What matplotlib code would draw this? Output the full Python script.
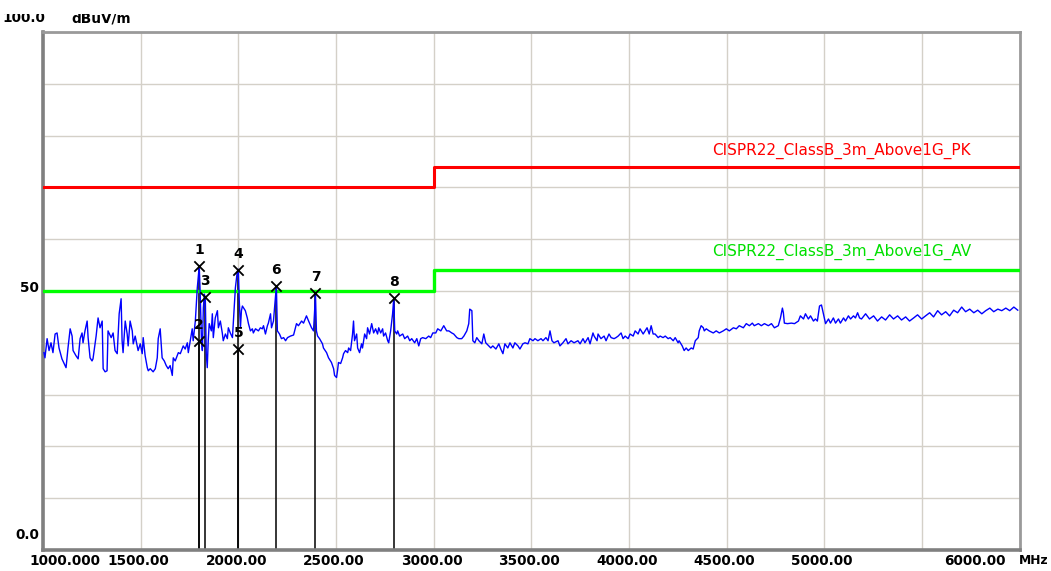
import matplotlib
matplotlib.use('Agg')
import matplotlib.pyplot as plt
from matplotlib.transforms import offset_copy, blended_transform_factory, Bbox
import numpy as np

# ---------------- data ----------------
freq = [1005, 1010, 1021, 1031, 1041, 1051, 1062, 1072, 1082, 1097, 1108, 1118, 1128, 1139, 1149, 1154,
        1169, 1180, 1190, 1200, 1205, 1215, 1226, 1231, 1241, 1251, 1256, 1272, 1282, 1292, 1303, 1308,
        1318, 1328, 1333, 1349, 1359, 1369, 1380, 1390, 1400, 1405, 1410, 1421, 1431, 1436, 1446, 1457,
        1462, 1472, 1482, 1487, 1498, 1508, 1513, 1523, 1534, 1539, 1549, 1564, 1575, 1585, 1590, 1600,
        1610, 1621, 1631, 1641,
        1651, 1662, 1667, 1677, 1693, 1703, 1718, 1728, 1739, 1744, 1754, 1764, 1769, 1780, 1790, 1800,
        1805, 1811, 1816, 1821, 1826, 1831, 1836, 1841, 1846, 1851, 1862, 1867, 1872, 1882, 1893, 1898,
        1908, 1918, 1923, 1934, 1944, 1949, 1959, 1970, 1975, 1985, 1995, 2000, 2005, 2011, 2016, 2021,
        2031, 2036, 2046, 2052, 2062, 2072, 2077, 2088, 2103, 2113, 2123, 2129, 2139, 2149, 2154, 2165,
        2170, 2180, 2190, 2195, 2200, 2211, 2221, 2232, 2242, 2252, 2267, 2283,
        2298, 2308, 2324, 2334, 2349, 2360, 2375, 2385, 2390, 2395, 2400, 2406, 2416, 2431, 2436, 2452,
        2462, 2477, 2488, 2493, 2503, 2508, 2513, 2524, 2534, 2539, 2549, 2560, 2565, 2575, 2585, 2590,
        2595, 2606, 2611, 2621, 2631, 2636, 2647, 2657, 2662, 2672, 2683, 2693, 2703, 2713, 2719, 2729,
        2739, 2744, 2754, 2765, 2770, 2780, 2790, 2796, 2801, 2811, 2816, 2826, 2842, 2852, 2867, 2878,
        2888, 2903, 2914, 2924,
        2934, 2944, 2960, 2975, 2985, 2996, 3011, 3021, 3037, 3052, 3067, 3078, 3093, 3103, 3119, 3129,
        3144, 3155, 3170, 3180, 3185, 3196, 3201, 3211, 3221, 3232, 3247, 3257, 3267, 3283, 3293, 3303,
        3319, 3334, 3344, 3355, 3365, 3380, 3391, 3406, 3416, 3432, 3442, 3457, 3468, 3483, 3493, 3509,
        3519, 3534, 3550, 3560, 3575, 3586, 3596, 3606, 3616, 3637, 3647, 3662,
        3678, 3688, 3704, 3719, 3739, 3750, 3765, 3775, 3791, 3801, 3816, 3822, 3837, 3842, 3857, 3873,
        3883, 3898, 3909, 3924, 3934, 3945, 3960, 3970, 3981, 3996, 4006, 4022, 4032, 4047, 4057, 4073,
        4083, 4093, 4104, 4114, 4124, 4134, 4150, 4160, 4175, 4186, 4201, 4211, 4227, 4237, 4252, 4257,
        4273, 4283, 4293, 4304, 4319, 4329, 4340, 4355, 4360, 4370,
        4381, 4386, 4396, 4411, 4432, 4447, 4463, 4483, 4499, 4514, 4535, 4550, 4565, 4586, 4601, 4617,
        4632, 4642, 4663, 4678, 4694, 4714, 4730, 4745, 4765, 4776, 4786, 4791, 4796, 4812, 4832, 4848,
        4868, 4878, 4894, 4904, 4919, 4930, 4945, 4955, 4965, 4976, 4986, 4996, 5007, 5022, 5032, 5047,
        5058, 5073, 5083, 5099, 5109, 5124, 5135, 5150, 5160, 5171, 5181,
        5191, 5212, 5232, 5253, 5273, 5294, 5314, 5335, 5355, 5376, 5396, 5417, 5437, 5458, 5478, 5499,
        5519, 5540, 5560, 5581, 5601, 5622, 5642, 5663, 5683, 5704, 5724, 5745, 5766, 5786, 5807, 5827,
        5848, 5868, 5889, 5909, 5930, 5950, 5971, 5991]

level = [38.1, 37.1, 40.8, 38.5, 40.0, 38.1, 41.7, 41.9, 39.0, 36.9, 36.0, 35.2, 39.0, 42.7, 41.3, 38.5,
         37.5, 36.9, 40.8, 41.9, 40.0, 42.3, 44.2, 41.0, 37.1, 36.5, 36.9, 41.3, 44.8, 42.9, 44.2, 35.0,
         34.4, 34.6, 42.3, 41.0, 41.9, 38.5, 37.9, 45.6, 48.5, 40.4, 38.1, 44.2, 41.7, 39.4, 44.2, 42.3,
         39.8, 41.3, 39.4, 38.5, 39.8, 37.9, 41.0, 37.5, 35.2, 34.6, 35.0, 34.4, 35.0, 37.1, 40.8, 42.7,
         37.1, 36.5, 35.6, 35.0,
         35.6, 33.7, 37.1, 36.5, 38.1, 37.9, 39.4, 38.8, 40.0, 38.1, 40.4, 42.7, 40.4, 44.2, 50.6, 54.8,
         49.4, 41.0, 38.5, 46.7, 49.4, 48.7, 37.9, 35.2, 40.4, 43.7, 42.3, 45.6, 41.0, 44.8, 46.2, 42.9,
         44.2, 41.9, 40.4, 41.7, 40.8, 42.9, 41.9, 41.0, 44.2, 50.6, 53.8, 54.2, 48.1, 42.9, 46.2, 47.1,
         46.5, 46.2, 44.8, 43.7, 42.3, 42.7, 41.9, 42.7, 42.3, 42.9, 42.7, 43.3, 41.7, 43.3, 43.8, 45.6,
         42.9, 44.2, 48.7, 51.0, 42.3, 41.7, 40.8, 41.0, 40.4, 41.0, 41.3, 41.5,
         43.7, 43.3, 44.2, 43.8, 45.2, 44.2, 42.9, 42.3, 45.6, 49.6, 42.3, 41.3, 40.8, 39.8, 39.0, 38.1,
         37.1, 36.2, 35.0, 33.7, 33.3, 34.6, 36.2, 36.0, 37.1, 37.9, 38.5, 38.1, 39.0, 38.5, 41.7, 44.2,
         40.4, 41.7, 39.0, 38.1, 39.8, 39.0, 41.7, 40.8, 42.9, 41.7, 43.7, 41.9, 42.7, 41.7, 42.9, 41.9,
         42.7, 41.3, 41.9, 40.4, 40.0, 42.3, 45.6, 48.6, 42.3, 41.7, 42.3, 41.3, 41.7, 40.8, 41.3, 40.4,
         40.8, 40.0, 40.8, 39.4,
         40.8, 41.0, 40.8, 41.3, 41.0, 41.9, 41.9, 42.7, 42.3, 43.3, 42.3, 42.3, 41.9, 41.7, 41.0, 40.8,
         40.8, 41.3, 42.3, 43.7, 46.5, 46.2, 40.4, 40.0, 41.0, 40.4, 39.8, 41.7, 40.0, 39.4, 39.0, 39.4,
         38.8, 39.8, 38.8, 37.9, 39.8, 39.0, 40.0, 39.0, 40.0, 39.4, 38.8, 39.8, 40.0, 39.8, 40.8, 40.4,
         40.8, 40.4, 40.8, 40.4, 41.0, 40.4, 42.3, 40.4, 40.0, 40.4, 39.4, 40.0,
         40.8, 39.8, 40.4, 40.0, 40.4, 39.8, 40.8, 40.0, 41.0, 39.8, 41.9, 41.3, 40.4, 41.7, 40.8, 41.3,
         40.4, 41.7, 41.0, 40.8, 41.0, 41.3, 41.9, 40.8, 41.3, 40.8, 41.7, 41.3, 42.3, 41.7, 42.7, 41.7,
         42.3, 42.9, 41.7, 43.3, 41.7, 41.7, 41.0, 41.3, 41.0, 41.3, 40.8, 41.0, 40.4, 41.0, 40.0, 40.4,
         39.4, 38.5, 39.0, 38.5, 39.0, 38.8, 40.4, 41.0, 42.3, 43.3,
         42.9, 42.3, 42.7, 42.3, 41.9, 42.3, 41.9, 42.3, 42.7, 42.3, 42.9, 42.7, 43.3, 42.9, 43.7, 43.3,
         43.8, 43.3, 43.7, 43.3, 43.7, 43.3, 43.7, 42.9, 43.3, 44.8, 46.7, 45.8, 43.8, 43.7, 43.8, 43.7,
         44.2, 45.2, 44.6, 45.6, 44.6, 45.2, 44.2, 44.6, 44.2, 47.1, 47.3, 45.6, 43.7, 44.6, 43.8, 44.8,
         43.8, 44.6, 43.8, 44.8, 44.2, 45.2, 44.6, 45.2, 44.8, 45.8, 44.8,
         44.6, 45.6, 44.6, 45.2, 44.2, 45.0, 44.4, 45.4, 44.6, 45.2, 44.4, 45.0, 44.2, 44.8, 45.4, 44.6,
         45.2, 45.8, 45.0, 46.2, 45.4, 46.0, 45.2, 46.3, 45.8, 46.9, 46.0, 46.5, 45.8, 46.3, 45.6, 46.2,
         46.7, 46.0, 46.5, 46.2, 46.7, 46.2, 46.9, 46.3]

pk_freq = [1000, 3000, 3000, 6000]
pk_level = [70, 70, 74, 74]
av_freq = [1000, 3000, 3000, 6000]
av_level = [50, 50, 54, 54]
pk_name = "CISPR22_ClassB_3m_Above1G_PK"
av_name = "CISPR22_ClassB_3m_Above1G_AV"

marker_ids = ['1', '2', '3', '4', '5', '6', '7', '8']
marker_freq = [1800, 1800, 1831, 2000, 2000, 2195, 2395, 2796]
marker_level = [54.8, 40.4, 48.8, 54.0, 38.8, 51.0, 49.6, 48.7]

xtick_vals = [1000, 1500, 2000, 2500, 3000, 3500, 4000, 4500, 5000, 6000]
xtick_labels = ['1000.000', '1500.00', '2000.00', '2500.00', '3000.00', '3500.00',
                '4000.00', '4500.00', '5000.00', '6000.00']
y_unit = 'dBuV/m'
x_unit = 'MHz'

# ---------------- figure ----------------
W, H = 1051, 571
fig = plt.figure(figsize=(W / 100, H / 100), dpi=100)
fig.patch.set_facecolor('white')
L, R, T, B = 43, 1019.5, 32, 550
ax = fig.add_axes([L / W, 1 - B / H, (R - L) / W, (B - T) / H])
ax.set_xlim(1000, 6000)
ax.set_ylim(0, 100)
ax.set_xticks(np.arange(1000, 6001, 500))
ax.set_yticks(np.arange(0, 101, 10))
ax.grid(True, color='#d4d0c8', lw=1.0, zorder=0)
ax.set_axisbelow(True)
ax.tick_params(length=0, labelbottom=False, labelleft=False)
for side in ['left', 'bottom']:
    ax.spines[side].set_color('#808080')
    ax.spines[side].set_linewidth(2.6)
for side in ['top', 'right']:
    ax.spines[side].set_color('#9a9a9a')
    ax.spines[side].set_linewidth(2.0)

# limit lines
ax.plot(pk_freq, pk_level, color='#ff0000', lw=2.2, zorder=3)
ax.plot(av_freq, av_level, color='#00ff00', lw=2.4, zorder=3)
ax.text(5090, 74 + 3.0, pk_name, color='#ff0000', fontsize=11, ha='center', va='center',
        family='DejaVu Sans', zorder=5)
ax.text(5090, 54 + 3.5, av_name, color='#00e000', fontsize=11, ha='center', va='center',
        family='DejaVu Sans', zorder=5)

# marker lines (under trace)
ax.vlines(marker_freq, 0, marker_level, color='black', lw=1.1, zorder=2)

# spectrum trace
ax.plot(freq, level, color='#0000ff', lw=1.0, zorder=4)

# markers
ax.scatter(marker_freq, marker_level, marker='x', s=55, color='black', lw=1.3, zorder=6)
for mid, mf, ml in zip(marker_ids, marker_freq, marker_level):
    tr = offset_copy(ax.transData, fig=fig, x=0, y=9, units='dots')
    ax.text(mf, ml, mid, transform=tr, ha='center', va='bottom', fontsize=10,
            fontweight='bold', color='black', zorder=7)

# x tick labels
bt = blended_transform_factory(ax.transData, ax.transAxes)
for v, lab in zip(xtick_vals, xtick_labels):
    if v == 1000:
        tr = offset_copy(bt, fig=fig, x=-14, y=-11, units='dots')
        ha = 'left'
    elif v == 6000:
        tr = offset_copy(bt, fig=fig, x=-14, y=-11, units='dots')
        ha = 'right'
    else:
        tr = offset_copy(bt, fig=fig, x=-2, y=-11, units='dots')
        ha = 'center'
    ax.text(v, 0, lab, transform=tr, ha=ha, va='center', fontsize=9.8, fontweight='bold',
            color='black', clip_on=False)
tr = offset_copy(ax.transAxes, fig=fig, x=-1, y=-11, units='dots')
ax.text(1, 0, x_unit, transform=tr, ha='left', va='center', fontsize=8.8, fontweight='bold',
        color='black', clip_on=False)

# y labels
bty = blended_transform_factory(ax.transAxes, ax.transData)
tr = offset_copy(bty, fig=fig, x=-4, y=3, units='dots')
ax.text(0, 50, '50', transform=tr, ha='right', va='center', fontsize=9.8, fontweight='bold',
        color='black', clip_on=False)
tr = offset_copy(bty, fig=fig, x=-4, y=15, units='dots')
ax.text(0, 0, '0.0', transform=tr, ha='right', va='center', fontsize=9.8, fontweight='bold',
        color='black', clip_on=False)
t100 = fig.text(45 / W, 1 - 18 / H, '100.0', ha='right', va='center', fontsize=9.8,
                fontweight='bold', color='black')
tunit = fig.text(71 / W, 1 - 18 / H, y_unit, ha='left', va='center', fontsize=9.8,
                 fontweight='bold', color='black')
clip = Bbox.from_extents(0, 0, W, H - 14)
for t in (t100, tunit):
    t.set_clip_box(clip)
    t.set_clip_on(True)

fig.savefig('out.png', dpi=100)
